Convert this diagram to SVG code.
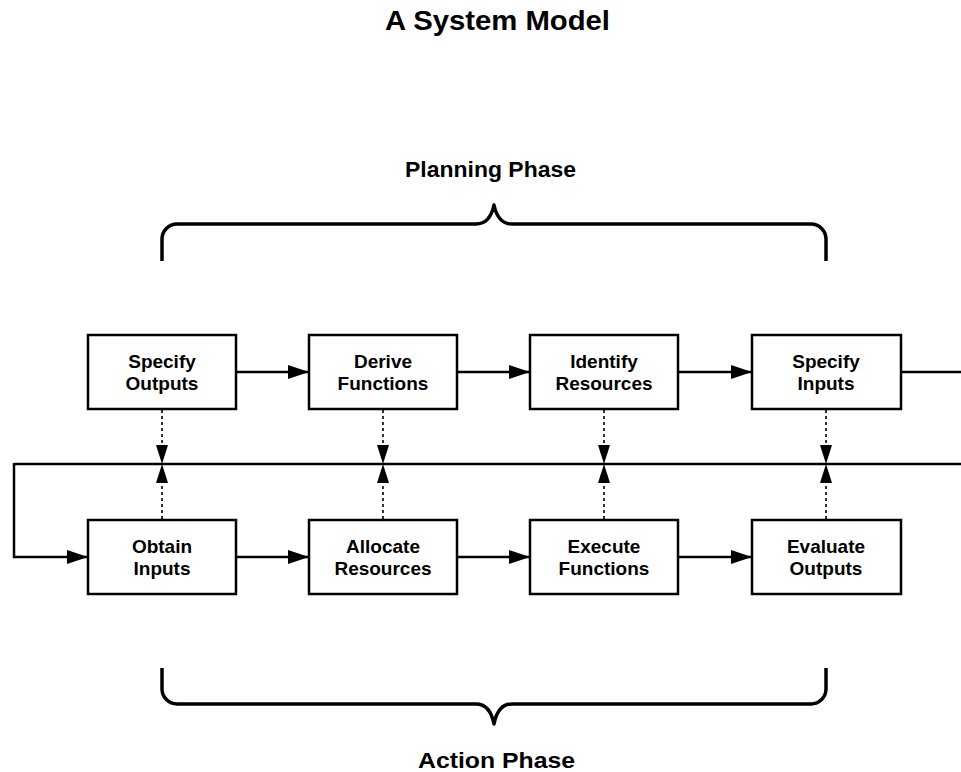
<svg xmlns="http://www.w3.org/2000/svg" width="961" height="772" viewBox="0 0 961 772">
<style>
  .box { fill: #fff; stroke: #000; stroke-width: 2.5; }
  .lbl { font-family: "Liberation Sans", Arial, sans-serif; font-weight: bold; font-size: 19px; text-anchor: middle; fill: #000; }
  .ttl { font-family: "Liberation Sans", Arial, sans-serif; font-weight: bold; text-anchor: middle; fill: #000; }
  .ln { fill: none; stroke: #000; stroke-width: 2.5; }
  .dot { fill: none; stroke: #000; stroke-width: 1.6; stroke-dasharray: 3 3; }
  .brace { fill: none; stroke: #000; stroke-width: 3.5; stroke-linejoin: round; }
</style>
<defs>
  <marker id="ah" markerUnits="userSpaceOnUse" viewBox="0 0 21 14" refX="21" refY="7" markerWidth="21" markerHeight="14" orient="auto">
    <path d="M0,0 L21,7 L0,14 Z" fill="#000"/>
  </marker>
  <marker id="ad" markerUnits="userSpaceOnUse" viewBox="0 0 19 12" refX="19" refY="6" markerWidth="19" markerHeight="12" orient="auto">
    <path d="M0,0 L19,6 L0,12 Z" fill="#000"/>
  </marker>
</defs>

<text class="ttl" x="497.5" y="30" font-size="28.5" textLength="225" lengthAdjust="spacingAndGlyphs">A System Model</text>
<text class="ttl" x="490.5" y="177" font-size="22.5" textLength="171" lengthAdjust="spacingAndGlyphs">Planning Phase</text>
<text class="ttl" x="496.5" y="768" font-size="22.5" textLength="157" lengthAdjust="spacingAndGlyphs">Action Phase</text>

<g id="braces">
  <path class="brace" d="M162,261 L162,239 A15,15 0 0 1 177,224 L476,224 Q490,224 494,205 Q498,224 512,224 L811,224 A15,15 0 0 1 826,239 L826,261"/>
  <path class="brace" d="M162,668 L162,689 A15,15 0 0 0 177,704 L476,704 Q490,704 494,724 Q498,704 512,704 L811,704 A15,15 0 0 0 826,689 L826,668"/>
</g>

<g id="connectors">
  <line class="ln" x1="236" y1="372" x2="309" y2="372" marker-end="url(#ah)"/>
  <line class="ln" x1="457" y1="372" x2="530" y2="372" marker-end="url(#ah)"/>
  <line class="ln" x1="678" y1="372" x2="752" y2="372" marker-end="url(#ah)"/>
  <line class="ln" x1="901" y1="372" x2="961" y2="372"/>
  <line class="ln" x1="14" y1="464" x2="961" y2="464"/>
  <path class="ln" d="M14,463 L14,557 L88,557" marker-end="url(#ah)"/>
  <line class="ln" x1="236" y1="557" x2="309" y2="557" marker-end="url(#ah)"/>
  <line class="ln" x1="457" y1="557" x2="530" y2="557" marker-end="url(#ah)"/>
  <line class="ln" x1="678" y1="557" x2="752" y2="557" marker-end="url(#ah)"/>
  <line class="dot" x1="162" y1="410" x2="162" y2="464" marker-end="url(#ad)"/>
  <line class="dot" x1="383" y1="410" x2="383" y2="464" marker-end="url(#ad)"/>
  <line class="dot" x1="604" y1="410" x2="604" y2="464" marker-end="url(#ad)"/>
  <line class="dot" x1="826" y1="410" x2="826" y2="464" marker-end="url(#ad)"/>
  <line class="dot" x1="162" y1="519" x2="162" y2="464" marker-end="url(#ad)"/>
  <line class="dot" x1="383" y1="519" x2="383" y2="464" marker-end="url(#ad)"/>
  <line class="dot" x1="604" y1="519" x2="604" y2="464" marker-end="url(#ad)"/>
  <line class="dot" x1="826" y1="519" x2="826" y2="464" marker-end="url(#ad)"/>
</g>

<g id="specify-outputs"><rect class="box" x="88" y="335" width="148" height="74"/><text class="lbl" x="162" y="368">Specify</text><text class="lbl" x="162" y="390">Outputs</text></g>
<g id="derive-functions"><rect class="box" x="309" y="335" width="148" height="74"/><text class="lbl" x="383" y="368">Derive</text><text class="lbl" x="383" y="390">Functions</text></g>
<g id="identify-resources"><rect class="box" x="530" y="335" width="148" height="74"/><text class="lbl" x="604" y="368">Identify</text><text class="lbl" x="604" y="390">Resources</text></g>
<g id="specify-inputs"><rect class="box" x="752" y="335" width="149" height="74"/><text class="lbl" x="826" y="368">Specify</text><text class="lbl" x="826" y="390">Inputs</text></g>

<g id="obtain-inputs"><rect class="box" x="88" y="520" width="148" height="74"/><text class="lbl" x="162" y="553">Obtain</text><text class="lbl" x="162" y="575">Inputs</text></g>
<g id="allocate-resources"><rect class="box" x="309" y="520" width="148" height="74"/><text class="lbl" x="383" y="553">Allocate</text><text class="lbl" x="383" y="575">Resources</text></g>
<g id="execute-functions"><rect class="box" x="530" y="520" width="148" height="74"/><text class="lbl" x="604" y="553">Execute</text><text class="lbl" x="604" y="575">Functions</text></g>
<g id="evaluate-outputs"><rect class="box" x="752" y="520" width="149" height="74"/><text class="lbl" x="826" y="553">Evaluate</text><text class="lbl" x="826" y="575">Outputs</text></g>
</svg>
